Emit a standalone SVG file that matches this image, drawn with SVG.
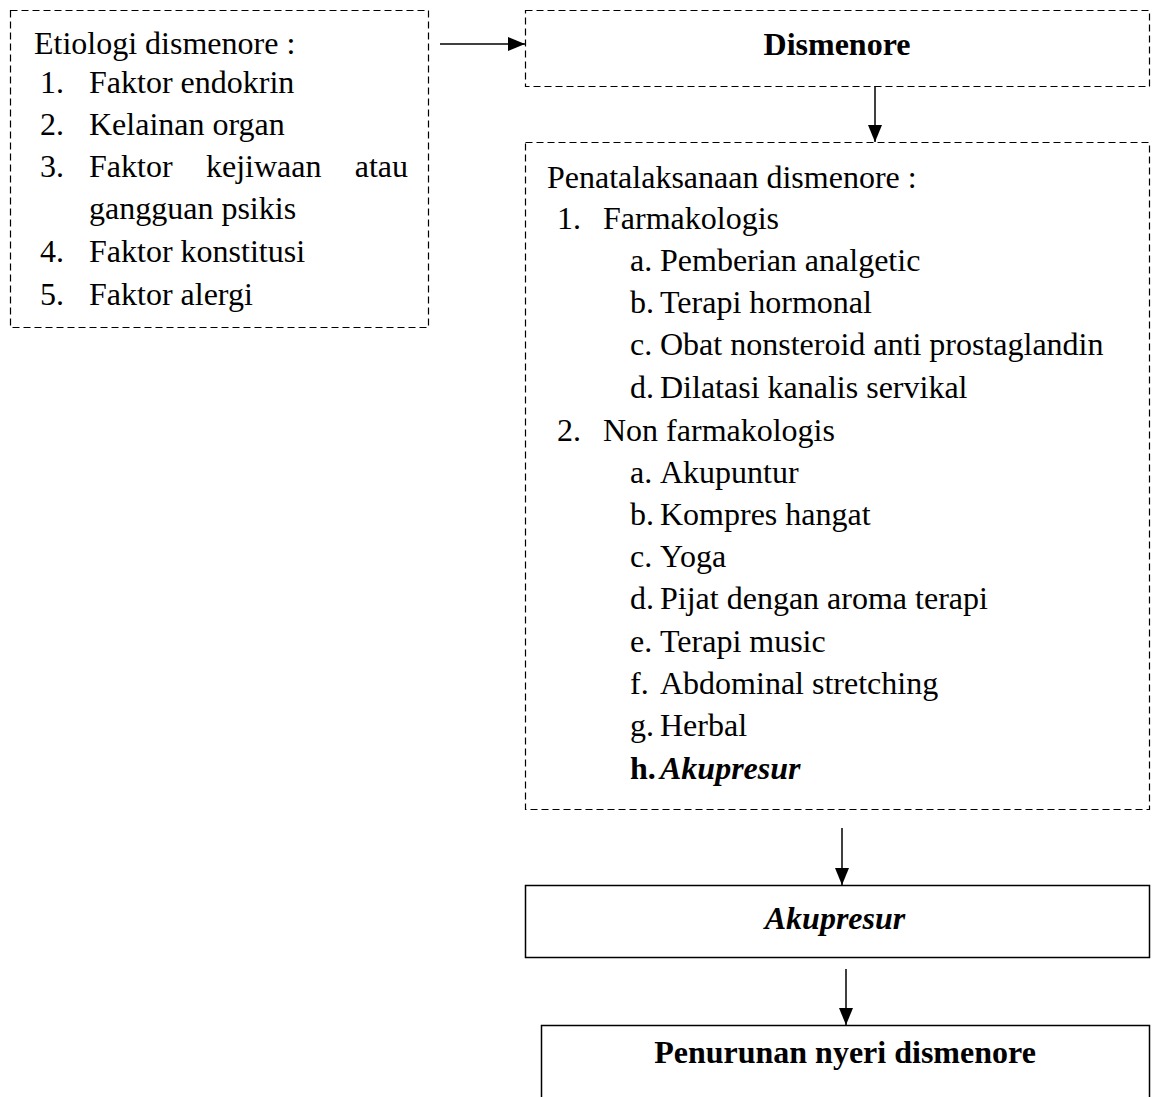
<svg xmlns="http://www.w3.org/2000/svg" width="1157" height="1097" viewBox="0 0 1157 1097">
<style>
text{font-family:"Liberation Serif","Times New Roman",serif;font-size:32px;fill:#000}
.b{font-weight:bold}
.i{font-style:italic}
.c{text-anchor:middle}
.dash{fill:none;stroke:#000;stroke-width:1.2;stroke-dasharray:7,4}
.solid{fill:none;stroke:#000;stroke-width:1.5}
.conn{stroke:#000;stroke-width:1.5;fill:none}
</style>
<defs>
<marker id="ah" markerWidth="17" markerHeight="16" refX="17" refY="8" orient="auto" markerUnits="userSpaceOnUse" viewBox="0 0 17 16">
<path d="M0,1 L17,8 L0,15 Z" fill="#000"/>
</marker>
</defs>
<rect width="1157" height="1097" fill="#fff"/>
<g id="etiologi">
<rect class="dash" x="10.5" y="10.5" width="418" height="317"/>
<text x="34" y="54">Etiologi dismenore :</text>
<text x="40" y="93">1.</text><text x="89" y="93">Faktor endokrin</text>
<text x="40" y="135">2.</text><text x="89" y="135">Kelainan organ</text>
<text x="40" y="177">3.</text><text x="89" y="177">Faktor</text><text x="206" y="177">kejiwaan</text><text x="408" y="177" text-anchor="end">atau</text>
<text x="89" y="219">gangguan psikis</text>
<text x="40" y="262">4.</text><text x="89" y="262">Faktor konstitusi</text>
<text x="40" y="305">5.</text><text x="89" y="305">Faktor alergi</text>
</g>
<g id="dismenore">
<rect class="dash" x="525.5" y="10.5" width="624" height="76"/>
<text class="b c" x="837" y="55">Dismenore</text>
</g>
<g id="penatalaksanaan">
<rect class="dash" x="525.5" y="142.5" width="624" height="667"/>
<text x="547" y="188">Penatalaksanaan dismenore :</text>
<text x="557" y="229">1.</text><text x="603" y="229">Farmakologis</text>
<text x="630" y="271">a.</text><text x="660" y="271">Pemberian analgetic</text>
<text x="630" y="313">b.</text><text x="660" y="313">Terapi hormonal</text>
<text x="630" y="355">c.</text><text x="660" y="355">Obat nonsteroid anti prostaglandin</text>
<text x="630" y="398">d.</text><text x="660" y="398">Dilatasi kanalis servikal</text>
<text x="557" y="441">2.</text><text x="603" y="441">Non farmakologis</text>
<text x="630" y="483">a.</text><text x="660" y="483">Akupuntur</text>
<text x="630" y="525">b.</text><text x="660" y="525">Kompres hangat</text>
<text x="630" y="567">c.</text><text x="660" y="567">Yoga</text>
<text x="630" y="609">d.</text><text x="660" y="609">Pijat dengan aroma terapi</text>
<text x="630" y="652">e.</text><text x="660" y="652">Terapi music</text>
<text x="630" y="694">f.</text><text x="660" y="694">Abdominal stretching</text>
<text x="630" y="736">g.</text><text x="660" y="736">Herbal</text>
<text class="b" x="630" y="779">h.</text><text class="b i" x="660" y="779">Akupresur</text>
</g>
<g id="akupresur">
<rect class="solid" x="525.5" y="885.5" width="624" height="72"/>
<text class="b i c" x="835" y="929">Akupresur</text>
</g>
<g id="penurunan">
<rect class="solid" x="541.5" y="1025.5" width="608" height="100"/>
<text class="b c" x="845" y="1063">Penurunan nyeri dismenore</text>
</g>
<g id="connectors">
<line class="conn" x1="440" y1="44" x2="525" y2="44" marker-end="url(#ah)"/>
<line class="conn" x1="875" y1="86" x2="875" y2="142" marker-end="url(#ah)"/>
<line class="conn" x1="842" y1="828" x2="842" y2="885" marker-end="url(#ah)"/>
<line class="conn" x1="846" y1="969" x2="846" y2="1025" marker-end="url(#ah)"/>
</g>
</svg>
